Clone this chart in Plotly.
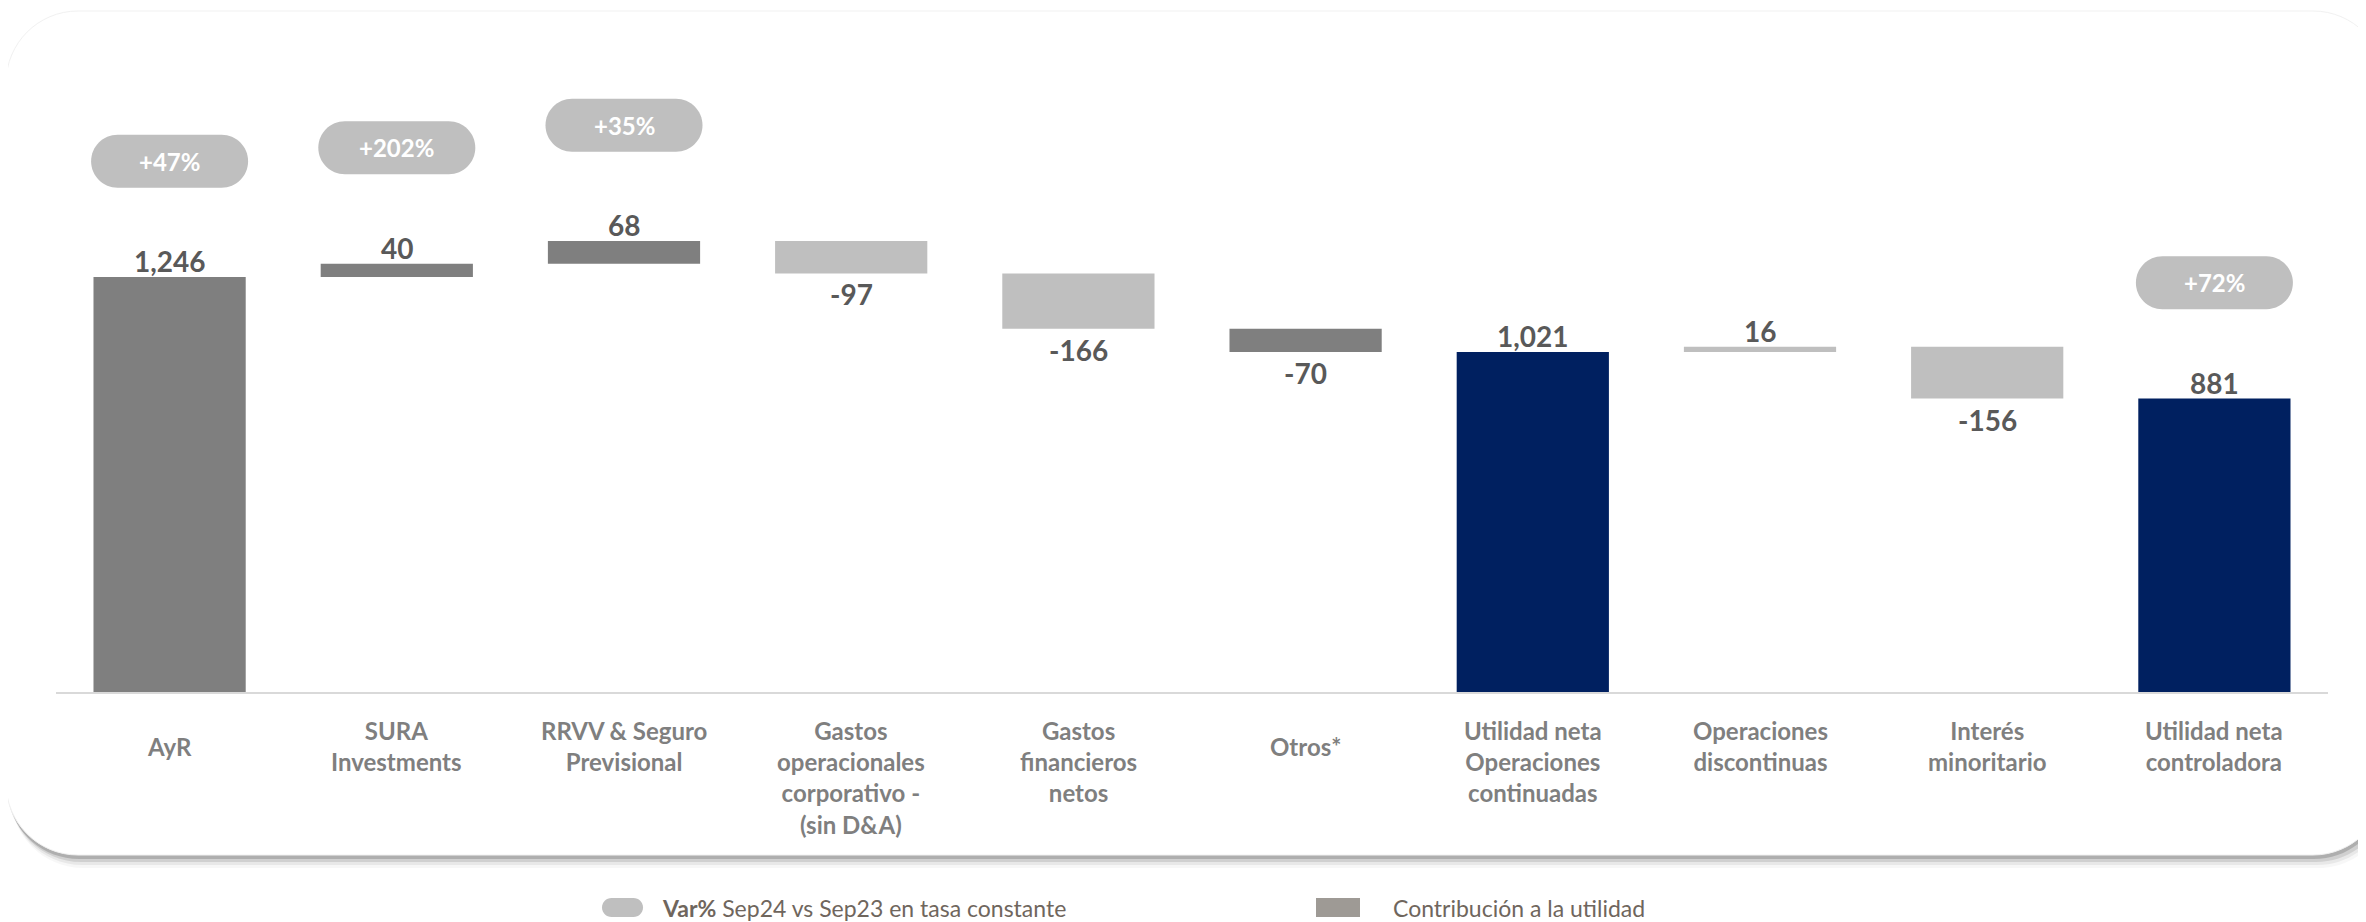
import plotly.graph_objects as go

# ---------------- data ----------------
categories = [
    "AyR",
    "SURA<br>Investments",
    "RRVV & Seguro<br>Previsional",
    "Gastos<br>operacionales<br>corporativo -<br>(sin D&A)",
    "Gastos<br>financieros<br>netos",
    "Otros*",
    "Utilidad neta<br>Operaciones<br>continuadas",
    "Operaciones<br>discontinuas",
    "Interés<br>minoritario",
    "Utilidad neta<br>controladora",
]
measures = ["absolute", "relative", "relative", "relative", "relative",
            "relative", "total", "relative", "relative", "total"]
values = [1246, 40, 68, -97, -166, -70, None, 16, -156, None]
var_pct = [47, 202, 35, None, None, None, None, None, None, 72]
kind = ["contribucion", "contribucion", "contribucion", "ajuste", "ajuste",
        "contribucion", "total", "ajuste", "ajuste", "total"]

legend_var = "<b>Var%</b> Sep24 vs Sep23 en tasa constante"
legend_contrib = "Contribución a la utilidad"

# ---------------- styles ----------------
W, H = 2366, 922
OFF = 8  # page body margin
ML = 56 - OFF
MR = W - (2328 - OFF)
BASE_Y = 692 - OFF           # figure pixel of the axis line
PH = 672
MT = BASE_Y - PH
MB = H - BASE_Y
PW = W - ML - MR
Y_MAX = 2018
FONT = "Lato"
kind_color = {"contribucion": "#7F7F7F", "ajuste": "#BFBFBF", "total": "#002060"}
PILL_OFFSET = 348  # in value units above bar top

# ---------------- waterfall geometry from data ----------------
bases, heights, labels = [], [], []
running = 0
for m, v in zip(measures, values):
    if m == "absolute":
        b, h = 0, v
        running = v
        lab = f"{v:,}"
    elif m == "relative":
        b, h = running, v
        running += v
        lab = f"{v:,}"
    else:
        b, h = 0, running
        lab = f"{running:,}"
    bases.append(b)
    heights.append(h)
    labels.append(lab)

idx = list(range(len(categories)))
colors = [kind_color[k] for k in kind]

fig = go.Figure()
fig.add_trace(go.Bar(
    x=idx, y=heights, base=bases, width=0.67,
    marker=dict(color=colors, line=dict(width=0)),
    hoverinfo="skip", showlegend=False,
))

annotations = []
shapes = []


def rr_path(x0, y0, x1, y1, r):
    k = 0.5523 * r
    return (f"M {x0+r},{y0} L {x1-r},{y0} C {x1-r+k},{y0} {x1},{y0+r-k} {x1},{y0+r} "
            f"L {x1},{y1-r} C {x1},{y1-r+k} {x1-r+k},{y1} {x1-r},{y1} "
            f"L {x0+r},{y1} C {x0+r-k},{y1} {x0},{y1-r+k} {x0},{y1-r} "
            f"L {x0},{y0+r} C {x0},{y0+r-k} {x0+r-k},{y0} {x0+r},{y0} Z")


def px_shape(X0, Y0, X1, Y1, r, fill, line_color=None, line_width=0, layer="below"):
    # screen pixel box -> pixel path relative to plot-area bottom-left
    x0, x1 = X0 - OFF - ML, X1 - OFF - ML
    y0, y1 = BASE_Y - (Y1 - OFF), BASE_Y - (Y0 - OFF)
    return dict(type="path", xref="paper", yref="paper", xsizemode="pixel",
                ysizemode="pixel", xanchor=0, yanchor=0,
                path=rr_path(x0, y0, x1, y1, r), fillcolor=fill,
                line=dict(color=line_color or "rgba(0,0,0,0)", width=line_width),
                layer=layer)


def px_paper(X, Y):
    return (X - OFF - ML) / PW, (BASE_Y - (Y - OFF)) / PH


# card with shadow
for dx, dy, a in [(5, 13, 0.03), (4, 10, 0.06), (3, 7, 0.10), (1, 4, 0.16)]:
    shapes.append(px_shape(6 + dx, 11 + dy, 2385 + dx, 855 + dy, 72, f"rgba(0,0,0,{a})"))
shapes.append(px_shape(6, 11, 2385, 855, 72, "#FFFFFF", "#F1F1F1", 1))

# value labels
for i, (b, h, lab) in enumerate(zip(bases, heights, labels)):
    end = b + h
    annotations.append(dict(
        x=i, y=end, xref="x", yref="y", text=lab, showarrow=False,
        yanchor="middle", yshift=16 if h >= 0 else -21,
        font=dict(family=FONT, size=28, color="#595959", weight="bold"),
    ))

# variation pills
PW_PILL, PH_PILL = 157, 53
for i, (b, h, p) in enumerate(zip(bases, heights, var_pct)):
    if p is None:
        continue
    top = b + max(h, 0)
    yc = top + PILL_OFFSET
    shapes.append(dict(
        type="path", xref="x", yref="y", xsizemode="pixel", ysizemode="pixel",
        xanchor=i, yanchor=yc,
        path=rr_path(-PW_PILL / 2, -PH_PILL / 2, PW_PILL / 2, PH_PILL / 2, PH_PILL / 2),
        fillcolor="#BFBFBF", line=dict(width=0), layer="above",
    ))
    annotations.append(dict(
        x=i, y=yc, xref="x", yref="y", text=f"<b>+{p}%</b>", showarrow=False,
        yanchor="middle", xanchor="center",
        font=dict(family=FONT, size=24, color="#FFFFFF"),
    ))

# category labels (top aligned below the axis)
for i, c in enumerate(categories):
    n_lines = c.count("<br>") + 1
    annotations.append(dict(
        x=i, y=0, xref="x", yref="paper", text=c, showarrow=False,
        yanchor="top" if n_lines > 1 else "middle", xanchor="center",
        yshift=-22 if n_lines > 1 else -54, align="center",
        font=dict(family=FONT, size=24, color="#7F7F7F", weight="bold"),
    ))

# legend
shapes.append(px_shape(602, 898, 643, 917, 9.5, "#BFBFBF", layer="above"))
shapes.append(px_shape(1316, 898, 1360, 917, 0.01, "#9E9A95", layer="above"))
lx, ly = px_paper(660, 908)
annotations.append(dict(
    x=lx, y=ly, xref="paper", yref="paper", text=legend_var, showarrow=False,
    xanchor="left", yanchor="middle",
    font=dict(family=FONT, size=23, color="#6F665D"),
))
lx, ly = px_paper(1391, 908)
annotations.append(dict(
    x=lx, y=ly, xref="paper", yref="paper", text=legend_contrib, showarrow=False,
    xanchor="left", yanchor="middle",
    font=dict(family=FONT, size=23, color="#6F665D"),
))

fig.update_layout(
    width=W, height=H,
    margin=dict(l=ML, r=MR, t=MT, b=MB),
    paper_bgcolor="#FFFFFF", plot_bgcolor="rgba(0,0,0,0)",
    shapes=shapes, annotations=annotations,
    showlegend=False, bargap=0.33,
    xaxis=dict(range=[-0.5, len(categories) - 0.5], showline=True,
               linecolor="#D9D9D9", linewidth=2, showgrid=False, zeroline=False,
               showticklabels=False, ticks="", fixedrange=True),
    yaxis=dict(range=[0, Y_MAX], visible=False, showgrid=False, zeroline=False,
               fixedrange=True),
)

fig.write_html("out.html", config={"displayModeBar": False})
